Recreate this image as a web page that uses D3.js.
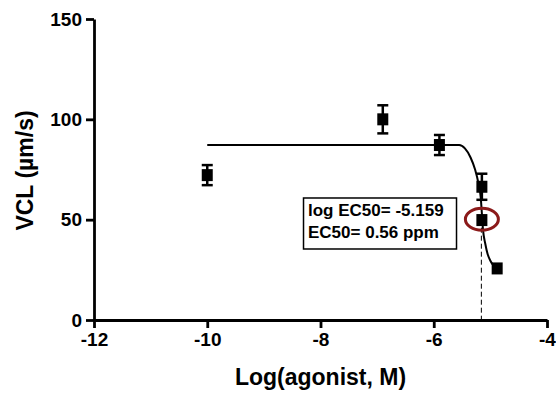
<!DOCTYPE html>
<html>
<head>
    <script src="https://cdnjs.cloudflare.com/ajax/libs/d3/7.8.5/d3.min.js"></script>
    <style>
        body { margin: 0; background: #fff; }
        text { font-family: Arial, "Liberation Sans", sans-serif; font-weight: bold; }
        .axis path, .axis line { stroke: #000; stroke-width: 2.8; }
    </style>
</head>
<body>
    <div id="chart"></div>
    <script>
        // measured points (mean +/- error)
        const logConc = [-10, -6.9, -5.9, -5.15, -5.15, -4.88];
        const vcl = [72.2, 100, 87.2, 66.4, 49.8, 25.7];
        const vclErr = [5, 7, 5, 6.5, 0, 0];

        // fitted curve
        const curveX = [-10, -5.55, -5.45, -5.35, -5.27, -5.21, -5.17, -5.15, -5.13, -5.09, -5.05, -5.0, -4.95, -4.9];
        const curveY = [87.2, 87.2, 85.5, 81, 75, 68, 61, 53, 45, 38, 33, 29.5, 27.3, 26];

        const xTicks = [-12, -10, -8, -6, -4];
        const yTicks = [0, 50, 100, 150];
        const logEC50 = -5.159;
        const boxLines = ["log EC50= -5.159", "EC50= 0.56 ppm"];

        const W = 556, H = 399;
        const margin = {top: 19, right: 9, bottom: 79, left: 94};

        const svg = d3.select("#chart").append("svg")
            .attr("width", W)
            .attr("height", H);

        const x = d3.scaleLinear().domain([-12, -4]).range([margin.left, W - margin.right]);
        const y = d3.scaleLinear().domain([0, 150]).range([H - margin.bottom, margin.top]);

        // axes
        svg.append("g")
            .attr("class", "axis")
            .attr("transform", `translate(0,${y(0)})`)
            .call(d3.axisBottom(x).tickValues(xTicks).tickSize(8).tickPadding(5).tickSizeOuter(0)
                .tickFormat(d => String(d)))
            .selectAll("text")
            .style("font-size", "19px")
            .attr("fill", "#000");

        svg.append("g")
            .attr("class", "axis")
            .attr("transform", `translate(${x(-12)},0)`)
            .call(d3.axisLeft(y).tickValues(yTicks).tickSize(8).tickPadding(4).tickSizeOuter(0))
            .selectAll("text")
            .style("font-size", "19px")
            .attr("fill", "#000");

        svg.append("text")
            .attr("x", (x(-12) + x(-4)) / 2)
            .attr("y", 385)
            .attr("text-anchor", "middle")
            .style("font-size", "23px")
            .text("Log(agonist, M)");

        svg.append("text")
            .attr("transform", `translate(33,${(y(0) + y(150)) / 2 + 1}) rotate(-90)`)
            .attr("text-anchor", "middle")
            .style("font-size", "23px")
            .text("VCL (µm/s)");

        // dashed line at EC50
        svg.append("line")
            .attr("x1", x(logEC50)).attr("x2", x(logEC50))
            .attr("y1", y(46)).attr("y2", y(0))
            .attr("stroke", "#000")
            .attr("stroke-width", 1)
            .attr("stroke-dasharray", "5,3");

        // fitted curve
        const line = d3.line()
            .x(d => x(d[0]))
            .y(d => y(d[1]))
            .curve(d3.curveMonotoneX);

        svg.append("path")
            .datum(curveX.map((v, i) => [v, curveY[i]]))
            .attr("d", line)
            .attr("fill", "none")
            .attr("stroke", "#000")
            .attr("stroke-width", 2);

        // error bars + square markers
        const pts = logConc.map((v, i) => ({x: v, y: vcl[i], e: vclErr[i]}));
        const g = svg.append("g");
        pts.forEach(d => {
            if (d.e > 0) {
                g.append("line")
                    .attr("x1", x(d.x)).attr("x2", x(d.x))
                    .attr("y1", y(d.y - d.e)).attr("y2", y(d.y + d.e))
                    .attr("stroke", "#000").attr("stroke-width", 2.5);
                [d.y - d.e, d.y + d.e].forEach(v => {
                    g.append("line")
                        .attr("x1", x(d.x) - 5.5).attr("x2", x(d.x) + 5.5)
                        .attr("y1", y(v)).attr("y2", y(v))
                        .attr("stroke", "#000").attr("stroke-width", 2.5);
                });
            }
            g.append("rect")
                .attr("x", x(d.x) - 5.5)
                .attr("y", y(d.y) - 6)
                .attr("width", 11)
                .attr("height", 12)
                .attr("fill", "#000");
        });

        // red ring around the EC50 point
        svg.append("ellipse")
            .attr("cx", x(-5.15))
            .attr("cy", y(50.2))
            .attr("rx", 16.5)
            .attr("ry", 11)
            .attr("fill", "none")
            .attr("stroke", "#8b1a1a")
            .attr("stroke-width", 3);

        // annotation box
        const bx = x(-8.3), by = y(60.8);
        svg.append("rect")
            .attr("x", bx)
            .attr("y", by)
            .attr("width", 153)
            .attr("height", 51)
            .attr("fill", "#fff")
            .attr("stroke", "#000")
            .attr("stroke-width", 1.5);

        boxLines.forEach((t, i) => {
            svg.append("text")
                .attr("x", bx + 4.5)
                .attr("y", by + 18.5 + i * 21.5)
                .style("font-size", "17px")
                .text(t);
        });
    </script>
</body>
</html>
